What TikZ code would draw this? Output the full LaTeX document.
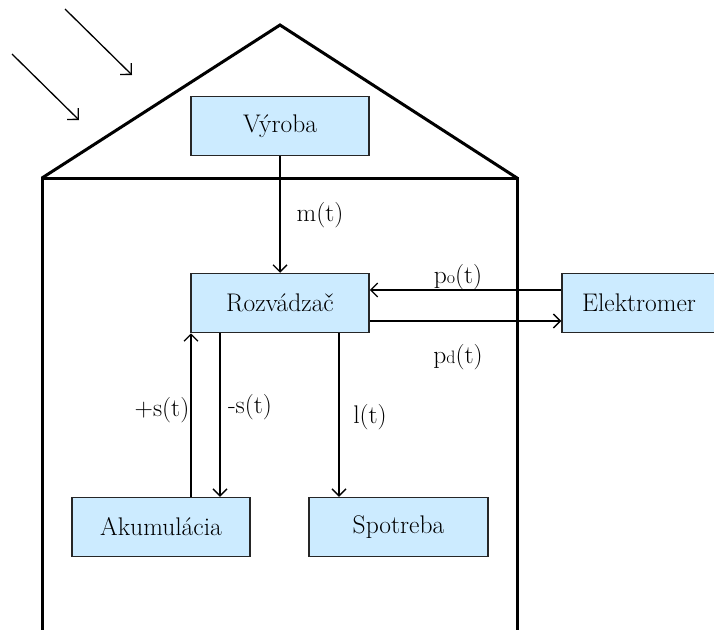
\documentclass[tikz,border=0pt]{standalone}
\usepackage{fontspec}
\usetikzlibrary{arrows.meta}
\definecolor{boxfill}{RGB}{204,235,255}
\begin{document}
\begin{tikzpicture}[x=1pt,y=-1pt,
  font=\fontsize{25.5}{30}\selectfont,
  blk/.style={draw=black!85, line width=1.5pt, fill=boxfill, minimum height=59pt, inner sep=0pt},
  conn/.style={line width=1.3pt, -{Straight Barb[length=7pt,width=14pt]}},
  ray/.style={line width=1.3pt, -{Straight Barb[length=8pt,width=16pt]}},
  wall/.style={line width=3pt, line join=miter},
  lbl/.style={inner sep=0pt}]
\useasboundingbox (0,0) rectangle (714,629);
% house
\draw[wall] (42,640) -- (42,178) -- (517,178) -- (517,640);
\draw[wall] (42,178) -- (280,25) -- (517,178);
% sun rays
\coordinate (r1a) at (65,9);   \coordinate (r1b) at (132,75);
\coordinate (r2a) at (12,54);  \coordinate (r2b) at (79,120);
\draw[ray] (r1a) -- (r1b);
\draw[ray] (r2a) -- (r2b);
% boxes
\node[blk, minimum width=178pt] (vyr) at (280,126) {Výroba};
\node[blk, minimum width=178pt] (roz) at (280,303) {Rozvádzač};
\node[blk, minimum width=154pt] (ele) at (639,303) {Elektromer};
\node[blk, minimum width=178pt] (aku) at (161,527) {Akumulácia};
\node[blk, minimum width=179pt] (spo) at (398.5,527) {Spotreba};
% connectors
\draw[conn] (vyr.south) -- (roz.north);
\draw[conn] ([yshift=13pt]ele.west) -- ([yshift=13pt]roz.east);
\draw[conn] ([yshift=-18pt]roz.east) -- ([yshift=-18pt]ele.west);
\coordinate (xp) at (191,0);
\coordinate (xm) at (220,0);
\coordinate (xl) at (339,0);
\draw[conn] (aku.north -| xp) -- (roz.south -| xp);
\draw[conn] (roz.south -| xm) -- (aku.north -| xm);
\draw[conn] (roz.south -| xl) -- (spo.north -| xl);
% labels
\node[lbl] (lm) at (320,215) {m(t)};
\node[lbl] (lpo) at (458,277) {p{\fontsize{18}{20}\selectfont o}(t)};
\node[lbl] (lpd) at (458,357) {p{\fontsize{18}{20}\selectfont d}(t)};
\node[lbl] (lps) at (162,410) {+s(t)};
\node[lbl] (lms) at (250,407) {-s(t)};
\node[lbl] (ll) at (370,417) {l(t)};
\end{tikzpicture}
\end{document}
